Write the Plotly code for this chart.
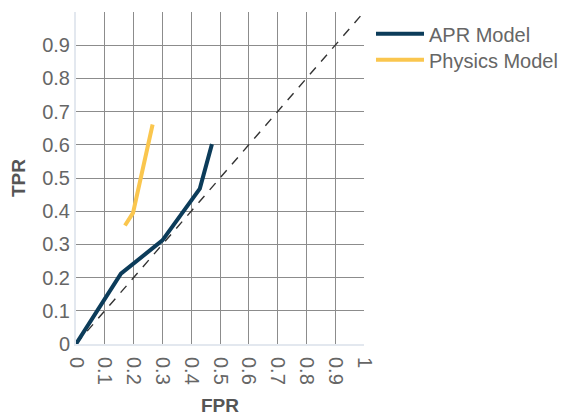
import plotly.graph_objects as go

# Data
apr_fpr = [0, 0.156, 0.30, 0.43, 0.472]
apr_tpr = [0, 0.212, 0.312, 0.468, 0.602]
phys_fpr = [0.17, 0.198, 0.266]
phys_tpr = [0.357, 0.395, 0.661]
diag = [0, 1]
x_ticks = [0, 0.1, 0.2, 0.3, 0.4, 0.5, 0.6, 0.7, 0.8, 0.9, 1]
y_ticks = [0, 0.1, 0.2, 0.3, 0.4, 0.5, 0.6, 0.7, 0.8, 0.9]

FONT = "Liberation Sans, Arial, sans-serif"
fig = go.Figure()
fig.add_trace(go.Scatter(x=diag, y=diag, mode="lines", showlegend=False,
                         line=dict(color="#333", width=1.4, dash="9px,8px"), hoverinfo="skip"))
fig.add_trace(go.Scatter(x=apr_fpr, y=apr_tpr, mode="lines", name="APR Model",
                         line=dict(color="#0c3c5a", width=4), legend="legend"))
fig.add_trace(go.Scatter(x=phys_fpr, y=phys_tpr, mode="lines", name="Physics Model",
                         line=dict(color="#fac64e", width=4), legend="legend2"))

leg_common = dict(xanchor="left", yanchor="top", itemwidth=48,
                  font=dict(size=20, color="#666"), bgcolor="rgba(0,0,0,0)")
fig.update_layout(
    width=561, height=416,
    margin=dict(l=76, r=197, t=12, b=72, autoexpand=False),
    paper_bgcolor="white", plot_bgcolor="white",
    font=dict(family=FONT, size=20, color="#666"),
    legend=dict(x=1.0243, y=0.993, **leg_common),
    legend2=dict(x=1.0243, y=0.915, **leg_common),
    xaxis=dict(range=[0, 1], tickvals=x_ticks, tickangle=90,
               ticks="outside", ticklen=7, tickcolor="rgba(0,0,0,0)",
               showgrid=True, gridcolor="#8c8c8c", gridwidth=1,
               zeroline=False, showline=True, linecolor="#e3e8ef", linewidth=2,
               title=dict(text="<b>FPR</b>", font=dict(size=19, color="#555"), standoff=19)),
    yaxis=dict(range=[0, 1], tickvals=y_ticks,
               showgrid=True, gridcolor="#8c8c8c", gridwidth=1,
               zeroline=False, showline=True, linecolor="#e3e8ef", linewidth=2,
               title=dict(text="<b>TPR</b>", font=dict(size=19, color="#555"), standoff=12)),
)
fig.write_html("out.html", config={"displayModeBar": False},
               post_script="document.body.style.margin='0';document.body.style.overflow='hidden';")
